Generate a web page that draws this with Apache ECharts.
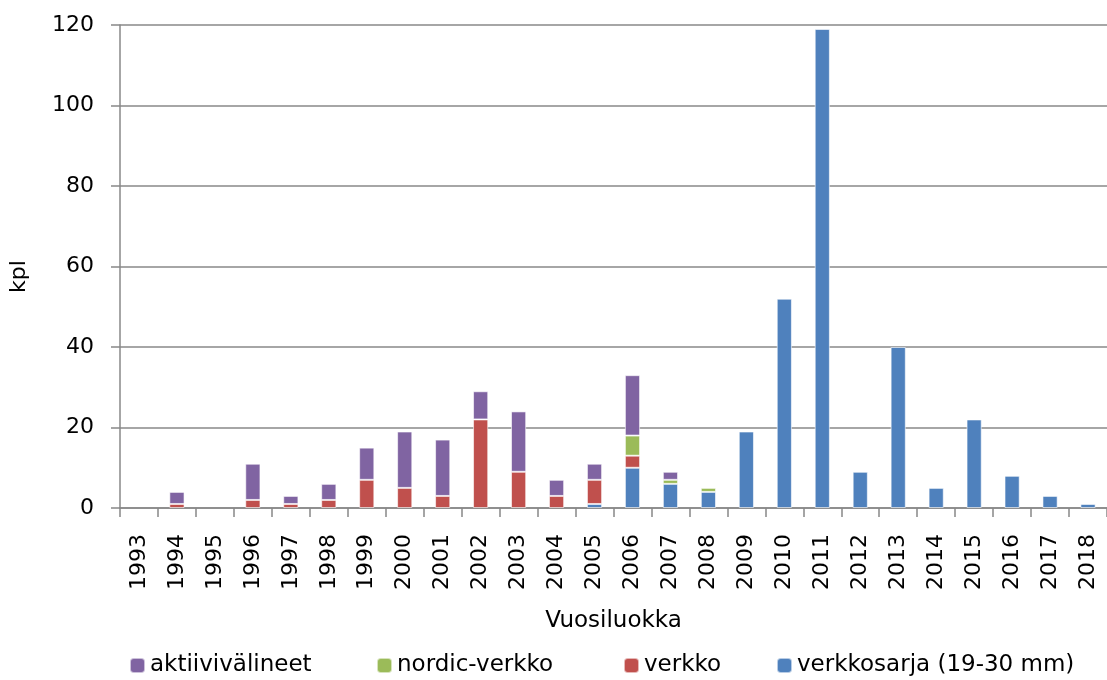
<!DOCTYPE html>
<html><head><meta charset="utf-8">
<script src="https://cdn.jsdelivr.net/npm/echarts@6/dist/echarts.min.js"></script>
<style>html,body{margin:0;padding:0;background:#fff}#c{width:1107px;height:680px}</style>
</head><body><div id="c"></div>
<script>
const categories = ['1993','1994','1995','1996','1997','1998','1999','2000','2001','2002','2003','2004','2005','2006','2007','2008','2009','2010','2011','2012','2013','2014','2015','2016','2017','2018'];
const verkkosarja = [0,0,0,0,0,0,0,0,0,0,0,0,1,10,6,4,19,52,119,9,40,5,22,8,3,1];
const verkko      = [0,1,0,2,1,2,7,5,3,22,9,3,6,3,0,0,0,0,0,0,0,0,0,0,0,0];
const nordic      = [0,0,0,0,0,0,0,0,0,0,0,0,0,5,1,1,0,0,0,0,0,0,0,0,0,0];
const aktiivi     = [0,3,0,9,2,4,8,14,14,7,15,4,4,15,2,0,0,0,0,0,0,0,0,0,0,0];
const yTicks = [0,20,40,60,80,100,120];
const legendNames = ['aktiivivälineet','nordic-verkko','verkko','verkkosarja (19-30 mm)'];
const legendLeft = [124,371,618,771];

const font = 'DejaVu Sans';
const chart = echarts.init(document.getElementById('c'));
function ser(name, data, color){
  return {name, type:'bar', stack:'s', data: data.map(v=>v===0?null:v), barWidth:'40%',
    itemStyle:{color, borderColor:'rgba(255,255,255,0.6)', borderWidth:1}};
}
chart.setOption({
  animation:false,
  textStyle:{fontFamily:font},
  grid:{left:120, right:0, top:25, bottom:172},
  legend: legendNames.map((n,i)=>({left:legendLeft[i], top:649, itemWidth:15, itemHeight:15, itemGap:7,
    textStyle:{fontSize:23, color:'#000', fontFamily:font}, data:[n]})),
  xAxis:{type:'category', data:categories, name:'Vuosiluokka', nameLocation:'middle', nameGap:102,
    nameTextStyle:{fontSize:23, color:'#000'},
    axisLine:{lineStyle:{color:'#888', width:1.5}},
    axisTick:{show:true, length:9, lineStyle:{color:'#888', width:1.5}},
    axisLabel:{rotate:90, fontSize:22, color:'#000', margin:26, interval:0}},
  yAxis:{type:'value', min:0, max:120, interval:20, name:'kpl', nameLocation:'middle', nameGap:90,
    nameTextStyle:{fontSize:22, color:'#000', padding:[0,20,0,0]},
    axisLine:{show:true, lineStyle:{color:'#888', width:1.5}},
    axisTick:{show:true, length:9, lineStyle:{color:'#888', width:1.5}},
    axisLabel:{fontSize:22, color:'#000', margin:26, formatter:v=>yTicks.includes(v)?String(v):''},
    splitLine:{lineStyle:{color:'#888', width:1.5}}},
  series:[
    ser('verkkosarja (19-30 mm)', verkkosarja, '#4F81BD'),
    ser('verkko', verkko, '#C0504D'),
    ser('nordic-verkko', nordic, '#9BBB59'),
    ser('aktiivivälineet', aktiivi, '#8064A2')
  ]
});
</script></body></html>
